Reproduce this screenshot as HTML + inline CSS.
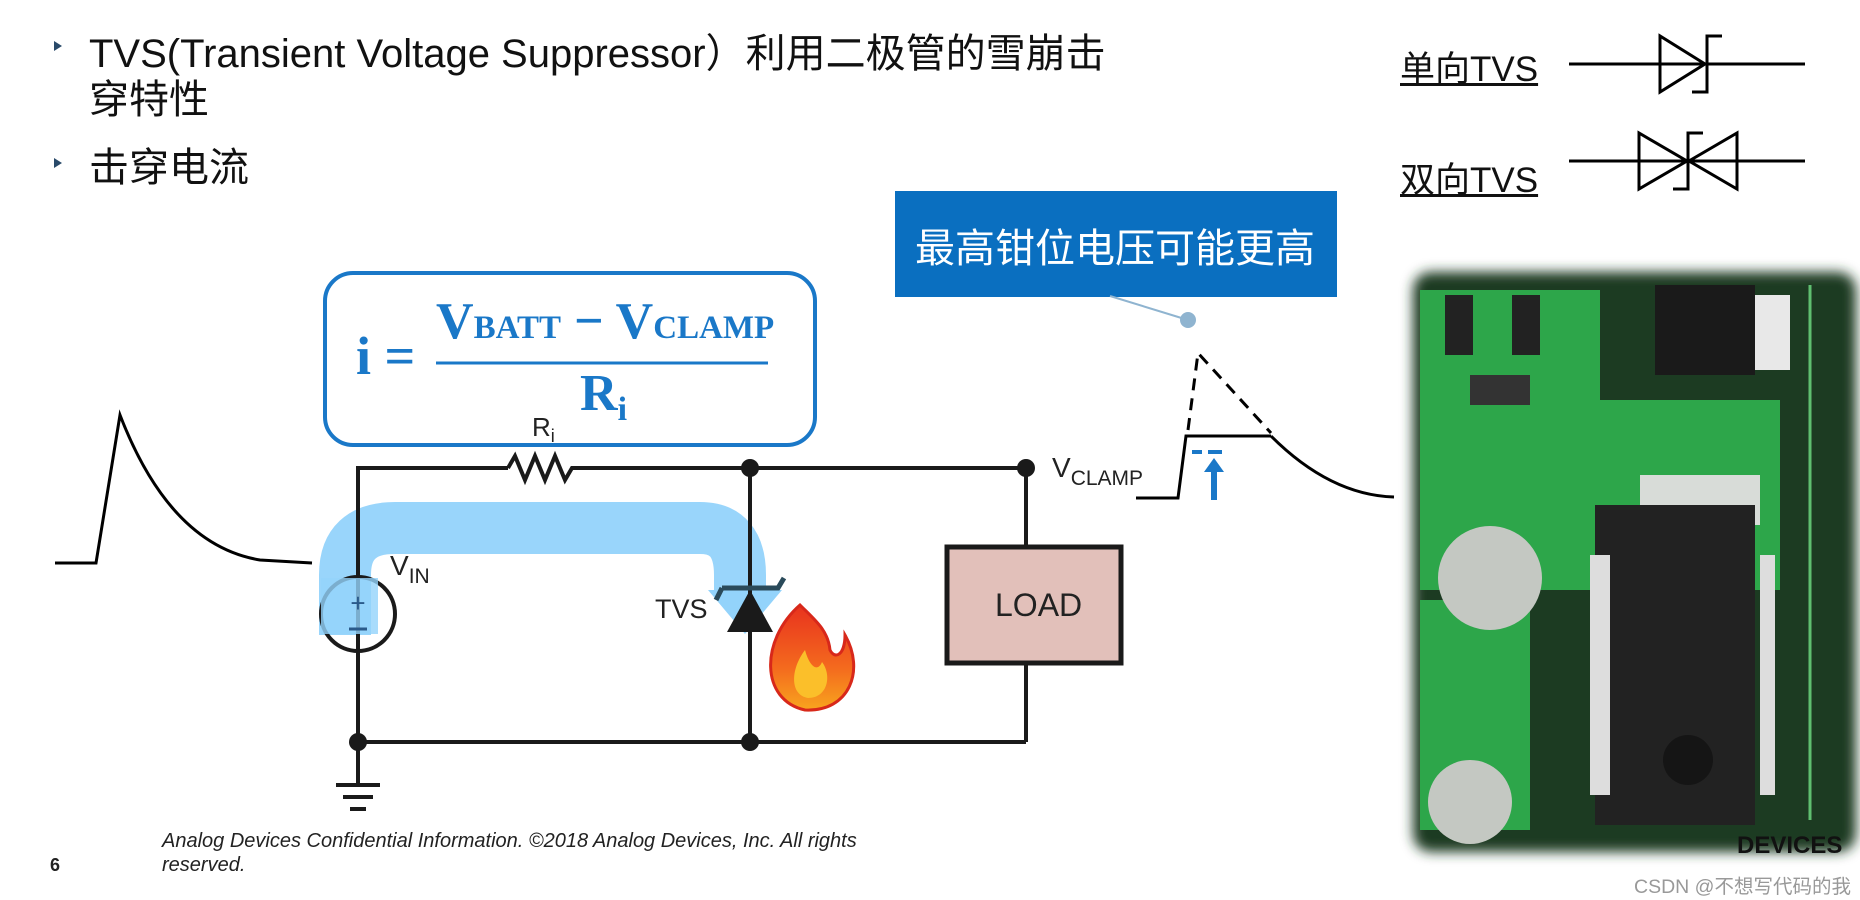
<!DOCTYPE html>
<html><head><meta charset="utf-8"><style>
html,body{margin:0;padding:0;background:#fff;}
body{width:1860px;height:900px;position:relative;overflow:hidden;font-family:"Liberation Sans","Noto Sans CJK SC",sans-serif;}
.t{position:absolute;white-space:nowrap;}
</style></head><body>
<svg width="1860" height="900" style="position:absolute;left:0;top:0" xmlns="http://www.w3.org/2000/svg">
<defs>
<filter id="blur"><feGaussianBlur stdDeviation="6"/></filter>
<linearGradient id="fl" x1="0" y1="0" x2="0" y2="1"><stop offset="0" stop-color="#e8321e"/><stop offset="0.6" stop-color="#f46a1e"/><stop offset="1" stop-color="#f8a51e"/></linearGradient>
</defs>
<polygon points="54,41 62,46 54,51" fill="#2a4a6a"/>
<polygon points="54,158 62,163 54,168" fill="#2a4a6a"/>
<g stroke="#000" stroke-width="3" fill="none">
<line x1="1569" y1="64" x2="1805" y2="64"/>
<polygon points="1660,36 1660,92 1705,64"/>
<polyline points="1722,36 1707,36 1707,92 1692,92"/>
<line x1="1569" y1="161" x2="1805" y2="161"/>
<polygon points="1639,133 1639,189 1687,161"/>
<polygon points="1737,133 1737,189 1689,161"/>
<polyline points="1703,133 1688,133 1688,189 1673,189"/>
</g>
<rect x="895" y="191" width="442" height="106" fill="#0a6fc0"/>
<line x1="1110" y1="296" x2="1188" y2="320" stroke="#8fb4d0" stroke-width="2"/>
<circle cx="1188" cy="320" r="8" fill="#8fb4d0"/>
<rect x="325" y="273" width="490" height="172" rx="28" fill="#fff" stroke="#1a78c8" stroke-width="4"/>
<line x1="436" y1="363" x2="768" y2="363" stroke="#1a78c8" stroke-width="3"/>
<path d="M345,635 L345,575 Q345,528 395,528 L700,528 Q740,528 740,575 L740,592" fill="none" stroke="#93d3fb" stroke-width="52" opacity="0.95"/>
<polygon points="708,590 782,590 745,634" fill="#93d3fb"/>
<g stroke="#1a1a1a" stroke-width="4" fill="none">
<polyline points="358,742 358,468 508,468"/>
<polyline points="508,468 515,456 525,480 535,456 545,480 555,456 565,480 572,468 581,468"/>
<line x1="581" y1="468" x2="1030" y2="468"/>
<line x1="358" y1="742" x2="1026" y2="742"/>
<line x1="1026" y1="742" x2="1026" y2="665"/>
<line x1="1026" y1="468" x2="1026" y2="545"/>
<line x1="750" y1="468" x2="750" y2="742"/>
<line x1="358" y1="742" x2="358" y2="785"/>
<line x1="336" y1="785" x2="380" y2="785"/>
<line x1="343" y1="797" x2="373" y2="797"/>
<line x1="350" y1="809" x2="366" y2="809"/>
</g>
<circle cx="358" cy="614" r="37" fill="none" stroke="#1a1a1a" stroke-width="4"/>
<rect x="321" y="578" width="57" height="56" fill="#93d3fb" opacity="0.8"/>
<text x="358" y="612" font-size="26" text-anchor="middle" fill="#2a5a8a" font-family="Liberation Sans">+</text>
<line x1="349" y1="629" x2="367" y2="629" stroke="#2a5a8a" stroke-width="3"/>
<g fill="#1a1a1a">
<circle cx="750" cy="468" r="9"/><circle cx="1026" cy="468" r="9"/>
<circle cx="358" cy="742" r="9"/><circle cx="750" cy="742" r="9"/>
</g>
<polygon points="727,632 773,632 750,590" fill="#1a1a1a"/>
<polyline points="722,588 778,588 784,578" fill="none" stroke="#2a4a5a" stroke-width="5"/>
<polyline points="716,600 722,588" fill="none" stroke="#2a4a5a" stroke-width="5"/>
<rect x="947" y="547" width="174" height="116" fill="#e2c0ba" stroke="#1a1a1a" stroke-width="5"/>
<path d="M800,605 C760,640 760,700 805,710 C850,712 865,670 845,635 C845,655 835,660 830,650 C828,630 815,620 800,605 Z" fill="url(#fl)" stroke="#d8281a" stroke-width="3"/>
<path d="M805,650 C790,670 790,695 808,698 C828,698 832,675 822,662 C818,672 810,668 805,650Z" fill="#fbbf2a"/>
<path d="M55,563 L96,563 L120,415 Q170,545 260,560 L312,563" fill="none" stroke="#000" stroke-width="3"/>
<polyline points="1136,498 1178,498 1186,436 1271,436" fill="none" stroke="#000" stroke-width="3"/>
<path d="M1271,436 Q1330,495 1394,497" fill="none" stroke="#000" stroke-width="3"/>
<path d="M1188,430 L1198,353 L1271,433" fill="none" stroke="#000" stroke-width="3" stroke-dasharray="12,8"/>
<line x1="1192" y1="452" x2="1202" y2="452" stroke="#1a78c8" stroke-width="4"/>
<line x1="1208" y1="452" x2="1222" y2="452" stroke="#1a78c8" stroke-width="4"/>
<line x1="1214" y1="470" x2="1214" y2="500" stroke="#1a78c8" stroke-width="6"/>
<polygon points="1204,472 1224,472 1214,458" fill="#1a78c8"/>
<g>
<rect x="1413" y="272" width="443" height="580" rx="18" fill="#1c3a22" filter="url(#blur)"/>
<rect x="1420" y="290" width="180" height="300" fill="#2da64a"/>
<rect x="1600" y="400" width="180" height="190" fill="#2da64a"/>
<rect x="1420" y="600" width="110" height="230" fill="#2da64a"/>
<rect x="1445" y="295" width="28" height="60" fill="#222"/>
<rect x="1512" y="295" width="28" height="60" fill="#222"/>
<rect x="1470" y="375" width="60" height="30" fill="#333"/>
<rect x="1655" y="285" width="100" height="90" fill="#1a1a1a"/>
<rect x="1755" y="295" width="35" height="75" fill="#e8e8e8"/>
<rect x="1640" y="475" width="120" height="50" fill="#d8dcd8"/>
<rect x="1595" y="505" width="160" height="320" fill="#222"/>
<rect x="1590" y="555" width="20" height="240" fill="#ddd"/>
<rect x="1760" y="555" width="15" height="240" fill="#ddd"/>
<circle cx="1688" cy="760" r="25" fill="#151515"/>
<circle cx="1490" cy="578" r="52" fill="#c4c8c2"/>
<circle cx="1470" cy="802" r="42" fill="#c4c8c2"/>
<line x1="1810" y1="285" x2="1810" y2="820" stroke="#5fbf70" stroke-width="3"/>
</g>
</svg>

<div class="t" style="left:89px;top:21px;font-size:40px;color:#111;">TVS(Transient Voltage Suppressor）利用二极管的雪崩击</div>
<div class="t" style="left:89px;top:67px;font-size:40px;color:#111;">穿特性</div>
<div class="t" style="left:89px;top:135px;font-size:40px;color:#111;">击穿电流</div>
<div class="t" style="left:1400px;top:41px;font-size:35px;color:#111;text-decoration:underline;">单向TVS</div>
<div class="t" style="left:1400px;top:152px;font-size:35px;color:#111;text-decoration:underline;">双向TVS</div>
<div class="t" style="left:915px;top:216px;font-size:40px;color:#fff;">最高钳位电压可能更高</div>
<div class="t" style="left:356px;top:325px;font-size:54px;font-weight:bold;color:#1a78c8;font-family:'Liberation Serif',serif;">i =</div>
<div class="t" style="left:436px;top:292px;font-size:52px;font-weight:bold;color:#1a78c8;font-family:'Liberation Serif',serif;">V<span style="font-size:33px">BATT</span> − V<span style="font-size:33px">CLAMP</span></div>
<div class="t" style="left:580px;top:364px;font-size:52px;font-weight:bold;color:#1a78c8;font-family:'Liberation Serif',serif;">R<span style="font-size:34px;position:relative;top:10px">i</span></div>
<div class="t" style="left:532px;top:412px;font-size:26px;color:#222;">R<span style="font-size:18px;position:relative;top:6px">i</span></div>
<div class="t" style="left:390px;top:550px;font-size:28px;color:#222;">V<span style="font-size:21px;position:relative;top:8px">IN</span></div>
<div class="t" style="left:1052px;top:452px;font-size:28px;color:#222;">V<span style="font-size:21px;position:relative;top:8px">CLAMP</span></div>
<div class="t" style="left:655px;top:594px;font-size:27px;color:#222;">TVS</div>
<div class="t" style="left:995px;top:587px;font-size:32px;color:#222;">LOAD</div>
<div class="t" style="left:162px;top:830px;font-size:20px;font-style:italic;color:#222;">Analog Devices Confidential Information. ©2018 Analog Devices, Inc. All rights</div>
<div class="t" style="left:162px;top:854px;font-size:20px;font-style:italic;color:#222;">reserved.</div>
<div class="t" style="left:50px;top:855px;font-size:18px;font-weight:bold;color:#222;">6</div>
<div class="t" style="left:1737px;top:832px;font-size:24px;font-weight:bold;color:#111;">DEVICES</div>
<div class="t" style="left:1634px;top:870px;font-size:19.5px;color:#999;">CSDN @不想写代码的我</div>
</body></html>
